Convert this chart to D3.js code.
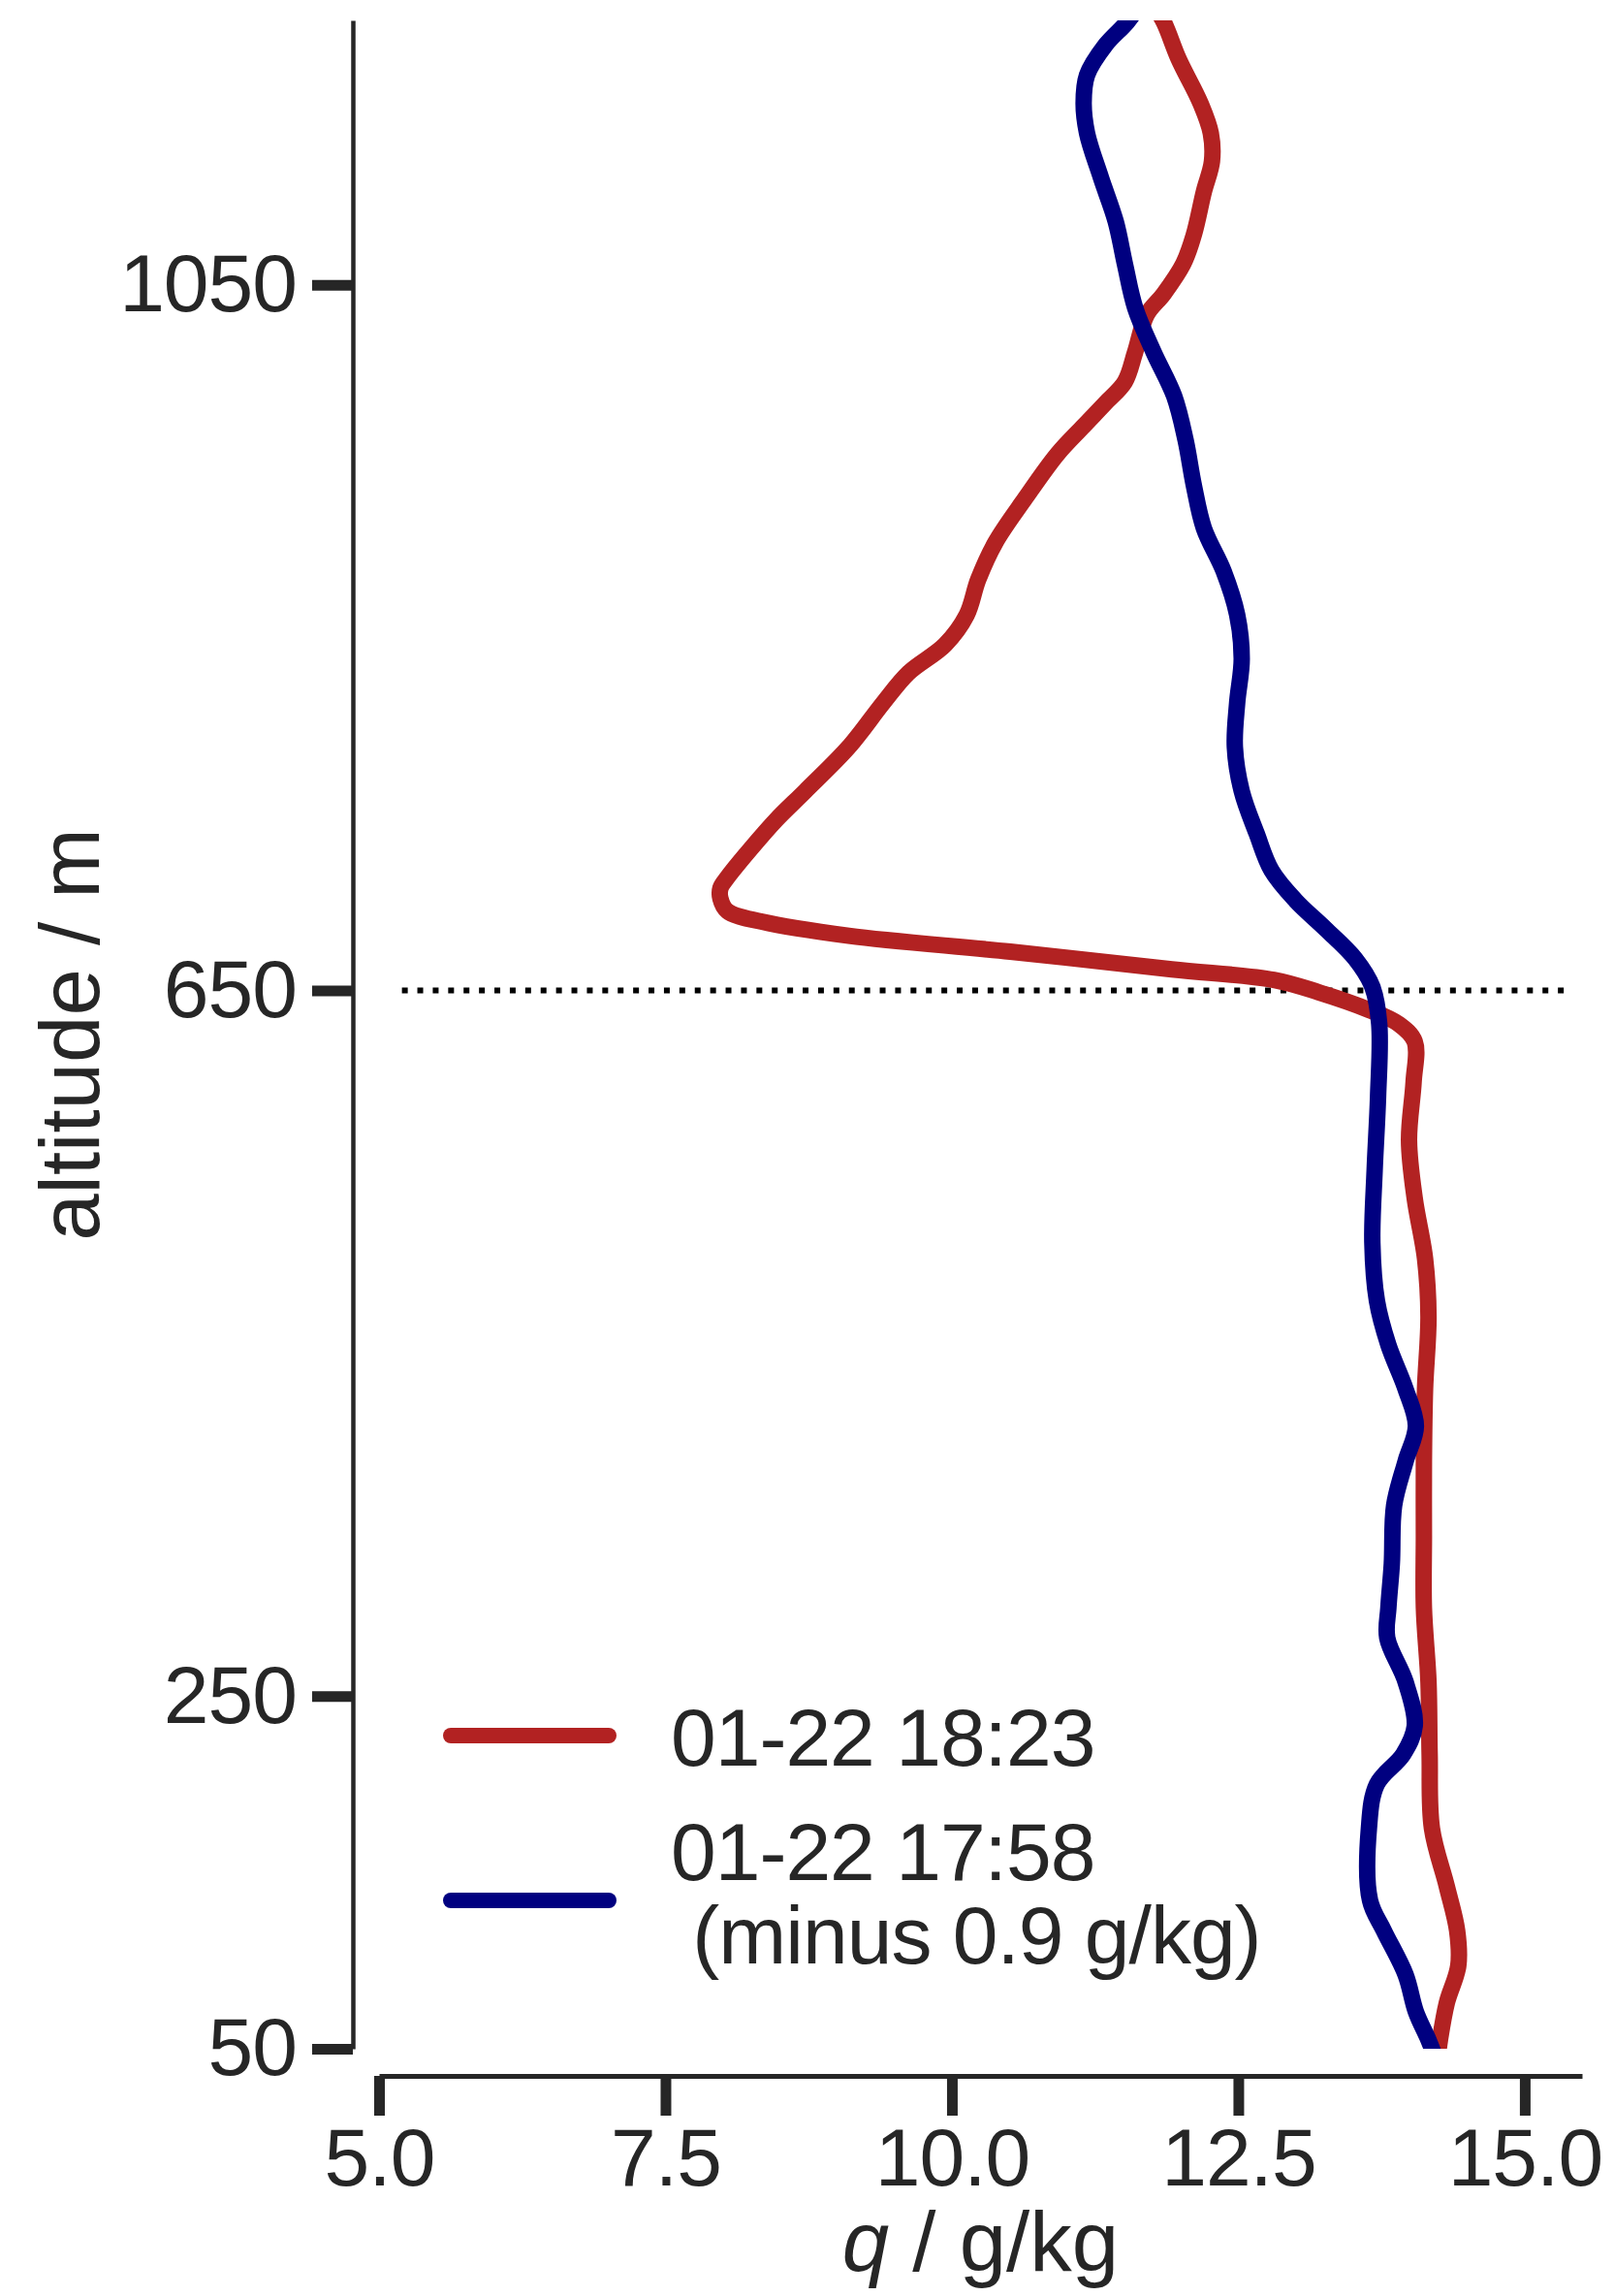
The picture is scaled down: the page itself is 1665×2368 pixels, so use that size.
<!DOCTYPE html>
<html>
<head>
<meta charset="utf-8">
<script src="https://cdn.jsdelivr.net/npm/d3@7"></script>
<style>
  body { margin: 0; background: #fff; }
  text { font-family: "Liberation Sans", Arial, sans-serif; fill: #262626; }
</style>
</head>
<body>
<div id="chart"></div>
<script>
// profile 01-22 18:23
const redAlt = [1210, 1199, 1178, 1153, 1136, 1120, 1103, 1078, 1062, 1045, 1033, 1012, 995, 983, 970, 954, 929, 904, 883, 863, 846, 830, 813, 788, 763, 747, 730, 714, 708, 702, 695, 689, 681, 672, 662, 656, 649, 639, 631, 621, 598, 565, 532, 498, 465, 424, 383, 341, 300, 258, 217, 175, 142, 117, 97, 76, 55, 45];
const redQ = [11.75, 11.85, 11.98, 12.17, 12.26, 12.27, 12.2, 12.11, 12.02, 11.85, 11.70, 11.60, 11.51, 11.34, 11.15, 10.92, 10.64, 10.38, 10.23, 10.13, 9.94, 9.62, 9.40, 9.10, 8.72, 8.47, 8.24, 8.04, 7.98, 7.98, 8.04, 8.34, 9.10, 10.51, 11.92, 12.81, 13.20, 13.64, 13.90, 14.04, 14.03, 13.99, 14.04, 14.13, 14.16, 14.13, 14.12, 14.12, 14.12, 14.16, 14.17, 14.19, 14.32, 14.41, 14.42, 14.32, 14.26, 14.24];

// profile 01-22 17:58, shifted by -0.9 g/kg
const blueAlt = [1210, 1199, 1186, 1169, 1153, 1136, 1111, 1086, 1062, 1037, 1012, 987, 962, 937, 912, 888, 863, 838, 813, 788, 763, 739, 718, 701, 685, 668, 652, 631, 590, 548, 507, 474, 449, 424, 403, 383, 358, 325, 300, 283, 258, 233, 217, 200, 175, 134, 117, 92, 71, 55, 45];
const blueQ = [11.65, 11.53, 11.34, 11.18, 11.15, 11.18, 11.30, 11.43, 11.51, 11.60, 11.76, 11.94, 12.04, 12.11, 12.20, 12.37, 12.49, 12.53, 12.49, 12.47, 12.53, 12.66, 12.79, 13.0, 13.26, 13.52, 13.67, 13.73, 13.72, 13.69, 13.67, 13.71, 13.81, 13.96, 14.05, 13.96, 13.86, 13.84, 13.81, 13.80, 13.96, 14.04, 13.94, 13.71, 13.64, 13.65, 13.77, 13.96, 14.05, 14.16, 14.22];

const xTicks = [5, 7.5, 10, 12.5, 15];
const yTicks = [50, 250, 650, 1050];
const inversionAlt = 650;
const seriesNames = ["01-22 18:23", "01-22 17:58", " (minus 0.9 g/kg)"];

const width = 1665, height = 2368;

const svg = d3.select("#chart").append("svg")
    .attr("width", width)
    .attr("height", height);

const x = d3.scaleLinear().domain([5, 15.5]).range([391, 1632]);
const y = d3.scaleLinear().domain([50, 1200]).range([2113, 21]);

// clip the profiles to the axes box
svg.append("clipPath").attr("id", "plotArea")
    .append("rect")
    .attr("x", x(5) - 40).attr("y", y(1200))
    .attr("width", x(15.5) - x(5) + 40)
    .attr("height", y(50) - y(1200));

// dotted line at the inversion
svg.append("line")
    .attr("x1", x(5.2)).attr("x2", x(15.4))
    .attr("y1", y(inversionAlt)).attr("y2", y(inversionAlt))
    .attr("stroke", "#000")
    .attr("stroke-width", 6)
    .attr("stroke-dasharray", "6,9.9");

const line = d3.line()
    .x(d => x(d[1]))
    .y(d => y(d[0]))
    .curve(d3.curveCatmullRom.alpha(0.5));

const profiles = [
    { alt: redAlt, q: redQ, color: "#b22222" },
    { alt: blueAlt, q: blueQ, color: "#000080" }
];

svg.append("g").attr("clip-path", "url(#plotArea)")
    .selectAll("path")
    .data(profiles)
    .enter()
    .append("path")
    .attr("d", p => line(p.alt.map((a, i) => [a, p.q[i]])))
    .attr("fill", "none")
    .attr("stroke", p => p.color)
    .attr("stroke-width", 17)
    .attr("stroke-linejoin", "round");

// axes
const yAxis = d3.axisLeft(y).tickValues(yTicks).tickFormat(d3.format("d"))
    .tickSize(42).tickSizeOuter(0).tickPadding(16);
const gy = svg.append("g").attr("transform", "translate(364,0)").call(yAxis);

const xAxis = d3.axisBottom(x).tickValues(xTicks).tickFormat(d3.format(".1f"))
    .tickSize(41).tickSizeOuter(0).tickPadding(12);
const gx = svg.append("g").attr("transform", "translate(0,2141)").call(xAxis);

[gy, gx].forEach(g => {
    g.select(".domain").attr("stroke", "#262626").attr("stroke-width", 4.5);
    g.selectAll(".tick line").attr("stroke", "#262626").attr("stroke-width", 11);
    g.selectAll(".tick text")
        .attr("fill", "#262626")
        .style("font-size", "84px")
        .style("letter-spacing", "-1px")
        .style("font-family", "'Liberation Sans', Arial, sans-serif");
});
gx.select(".domain").attr("stroke-width", 5);

// axis labels
const xl = svg.append("text")
    .attr("x", (x(5) + x(15.5)) / 2)
    .attr("y", 2342)
    .attr("text-anchor", "middle")
    .style("font-size", "87px");
xl.append("tspan").style("font-style", "italic").text("q");
xl.append("tspan").style("white-space", "pre").text(" / g/kg");

svg.append("text")
    .attr("transform", `translate(102,${(y(50) + y(1200)) / 2}) rotate(-90)`)
    .attr("text-anchor", "middle")
    .style("font-size", "87px")
    .text("altitude / m");

// legend
const legend = svg.append("g");
legend.append("line")
    .attr("x1", 465).attr("x2", 628).attr("y1", 1790).attr("y2", 1790)
    .attr("stroke", profiles[0].color).attr("stroke-width", 16).attr("stroke-linecap", "round");
legend.append("line")
    .attr("x1", 465).attr("x2", 628).attr("y1", 1960).attr("y2", 1960)
    .attr("stroke", profiles[1].color).attr("stroke-width", 16).attr("stroke-linecap", "round");

legend.append("text").attr("x", 692).attr("y", 1821)
    .style("font-size", "84px").style("letter-spacing", "-1px").text(seriesNames[0]);
legend.append("text").attr("x", 692).attr("y", 1939)
    .style("font-size", "84px").style("letter-spacing", "-1px").text(seriesNames[1]);
legend.append("text").attr("x", 692).attr("y", 2025)
    .style("font-size", "84px").style("letter-spacing", "-1px").style("white-space", "pre").text(seriesNames[2]);
</script>
</body>
</html>
